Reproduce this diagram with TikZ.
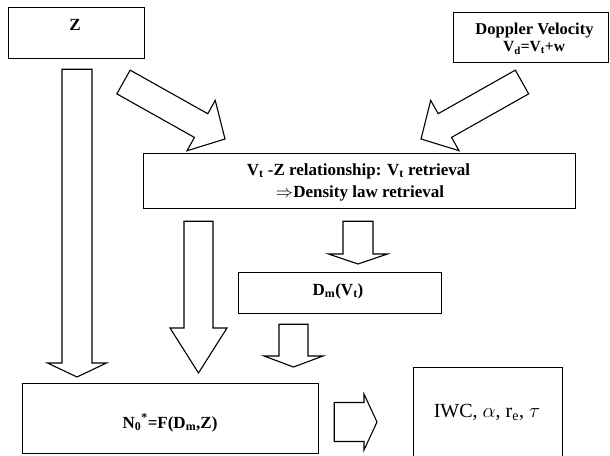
\documentclass[tikz,border=0pt]{standalone}
\usepackage{fontspec}
\setmainfont{Liberation Serif}
\usetikzlibrary{calc}
\newcommand\blockarrow[5]{% #1 tail, #2 tip, #3 shaft half width, #4 head half width, #5 head length
  \coordinate (hb) at ($(#2)!#5!(#1)$);
  \draw[barrow] ($(#1)!#3!90:(#2)$) -- ($(hb)!#3!90:(#2)$) -- ($(hb)!#4!90:(#2)$) -- (#2)
    -- ($(hb)!#4!-90:(#2)$) -- ($(hb)!#3!-90:(#2)$) -- ($(#1)!#3!-90:(#2)$) -- cycle;
}
\begin{document}
\begin{tikzpicture}[x=1pt,y=-1pt,
  box/.style={draw, line width=1.2pt, anchor=north west, inner sep=0pt},
  barrow/.style={draw, line width=1.1pt, line join=miter, fill=white},
  bt/.style={font=\fontsize{17}{20}\selectfont\bfseries, inner sep=0pt, anchor=base},
  rt/.style={font=\fontsize{20}{24}\selectfont, inner sep=0pt, anchor=base}]
\useasboundingbox (0,0) rectangle (610,455);
\clip (0,0) rectangle (610,455);
\fill[white] (0,0) rectangle (610,455);

% boxes
\node[box, minimum width=136pt, minimum height=51pt] (zbox) at (8,7) {};
\node[box, minimum width=155pt, minimum height=50pt] (dbox) at (453,12) {};
\node[box, minimum width=432pt, minimum height=55pt] (vbox) at (143,153) {};
\node[box, minimum width=203pt, minimum height=41pt] (dmbox) at (238,272) {};
\node[box, minimum width=296pt, minimum height=70pt] (nbox) at (22,383) {};
\node[box, minimum width=149pt, minimum height=103pt] (ibox) at (413,367) {};

% texts
\node[bt] (zt) at (75,30.7) {Z};
\node[bt, font=\fontsize{16.5}{20}\selectfont\bfseries] (d1) at (534.5,34.5) {Doppler Velocity};
\node[bt, font=\fontsize{15.5}{18}\selectfont\bfseries] (d2) at (534,51.5) {V\textsubscript{d}=V\textsubscript{t}+w};
\node[bt] (m1) at (358.5,175) {V\textsubscript{t} -Z relationship: V\textsubscript{t} retrieval};
\node[bt] (m2) at (360,197) {$\Rightarrow$Density law retrieval};
\node[bt] (dmt) at (338,295) {D\textsubscript{m}(V\textsubscript{t})};
\node[bt] (nt) at (170,428) {N\textsubscript{0}\textsuperscript{*}=F(D\textsubscript{m},Z)};
\node[rt] (it) at (487,417.5) {IWC, $\alpha$, r\textsubscript{e}, $\tau$};

% arrow end points
\coordinate (a1s) at ($(zbox.south -| 77,0)+(0,10)$);
\coordinate (a1e) at ($(nbox.north -| 77,0)+(0,-6)$);
\coordinate (a2s) at ($(vbox.south -| 198.5,0)+(0,12)$);
\coordinate (a2e) at ($(nbox.north -| 198.5,0)+(0,-10)$);
\coordinate (a3s) at ($(vbox.south -| 358,0)+(0,12)$);
\coordinate (a3e) at ($(dmbox.north -| 358,0)+(0,-8)$);
\coordinate (a4s) at ($(dmbox.south -| 293.5,0)+(0,10)$);
\coordinate (a4e) at ($(nbox.north -| 293.5,0)+(0,-16)$);
\coordinate (a5s) at ($(nbox.east |- 0,422)+(15,0)$);
\coordinate (a5e) at ($(ibox.west |- 0,422)+(-36,0)$);
\coordinate (a6s) at (123.5,82);
\coordinate (a6e) at (225,139);
\coordinate (a7s) at (522,82);
\coordinate (a7e) at (421,139);

% block arrows
\blockarrow{a1s}{a1e}{15pt}{29.5pt}{14pt}
\blockarrow{a2s}{a2e}{14.5pt}{28.5pt}{45pt}
\blockarrow{a3s}{a3e}{15pt}{29.5pt}{10pt}
\blockarrow{a4s}{a4e}{14.5pt}{29.5pt}{11pt}
\blockarrow{a5s}{a5e}{19.5pt}{28pt}{13pt}
\blockarrow{a6s}{a6e}{13.6pt}{28.9pt}{27.4pt}
\blockarrow{a7s}{a7e}{13.6pt}{28.9pt}{27.4pt}
\end{tikzpicture}
\end{document}
